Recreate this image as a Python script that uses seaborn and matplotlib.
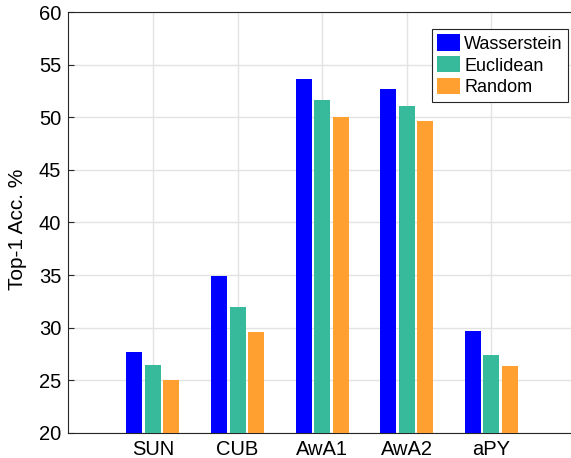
import pandas as pd
import seaborn as sns
import matplotlib.pyplot as plt

datasets = ['SUN', 'CUB', 'AwA1', 'AwA2', 'aPY']
wasserstein = [27.7, 34.9, 53.7, 52.7, 29.7]
euclidean = [26.4, 32.0, 51.7, 51.1, 27.4]
random_init = [25.0, 29.6, 50.0, 49.7, 26.3]
methods = ['Wasserstein', 'Euclidean', 'Random']
colors = ['#0000FF', '#37B99C', '#FFA030']

df = pd.DataFrame({
    'Dataset': datasets * 3,
    'Acc': wasserstein + euclidean + random_init,
    'Method': [m for m in methods for _ in datasets],
})

plt.rcParams['font.family'] = ['Liberation Sans', 'DejaVu Sans']

fig = plt.figure(figsize=(5.71, 4.58), dpi=100)
# axes run past the right edge of the figure, as in the reference
ax = fig.add_axes([0.1196, 0.0555, 0.95, 0.9175])

sns.barplot(data=df, x='Dataset', y='Acc', hue='Method', order=datasets,
            hue_order=methods, palette=colors, width=0.657, gap=0.14,
            saturation=1, ax=ax, zorder=3)

# keep ~84.6 px per category: 0.95*571/84.6 = 6.41 units
ax.set_xlim(-1, 5.41)
ax.set_ylim(20, 60)
ax.set_yticks(range(20, 61, 5))
ax.set_xlabel('')
ax.set_ylabel('Top-1 Acc. %', fontsize=15)
ax.yaxis.set_label_coords(-0.076, 0.4845)
ax.tick_params(axis='both', direction='in', length=4, labelsize=14.5,
               color='#262626', width=0.8)
ax.tick_params(axis='x', pad=5)
ax.tick_params(axis='y', pad=5)
ax.grid(True, color='#E3E3E3', linewidth=1, zorder=0)
ax.set_axisbelow(True)
for side in ['left', 'bottom', 'top']:
    ax.spines[side].set_color('#262626')
    ax.spines[side].set_linewidth(0.8)
ax.spines['right'].set_visible(False)

# legend box: right edge at x=568 px, top at y=29 px
leg = ax.legend(loc='upper right', bbox_to_anchor=(0.9947, 0.9367),
                bbox_transform=fig.transFigure, borderaxespad=0,
                fontsize=13, fancybox=False, edgecolor='#262626',
                framealpha=1, handlelength=1.3, handleheight=1.0,
                labelspacing=0.2, handletextpad=0.2, borderpad=0.3)
leg.get_frame().set_linewidth(0.8)

plt.savefig('out.png', dpi=100)
